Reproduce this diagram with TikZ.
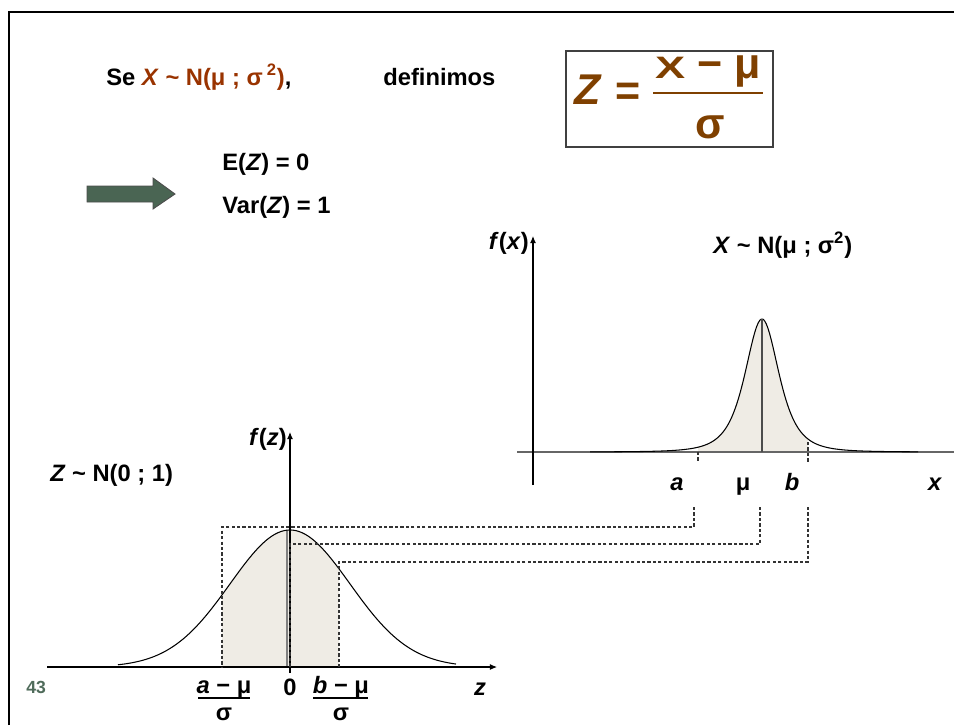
\documentclass[tikz,border=0pt]{standalone}
\usepackage{fontspec}
\setmainfont{Liberation Sans}
\usetikzlibrary{arrows.meta}
\definecolor{rustbrown}{HTML}{993300}
\definecolor{formbrown}{HTML}{7F4000}
\definecolor{arrowgreen}{HTML}{4A6553}
\definecolor{pagegreen}{HTML}{4F6B5A}
\definecolor{bellfill}{HTML}{EFECE5}
\tikzset{
  lbl/.style={font=\fontsize{13.5}{16}\selectfont\bfseries,inner sep=0pt,anchor=base west},
  lblc/.style={lbl,anchor=base},
  big/.style={font=\fontsize{24.5}{28}\selectfont\bfseries,text=formbrown,inner sep=0pt,anchor=base},
  axis/.style={-{Latex[length=4pt,width=3.4pt]},line width=0.6pt},
  guide/.style={dash pattern=on 1.8pt off 1.3pt,line width=0.6pt,black!80},
  curve/.style={line width=0.6pt,black}
}

\begin{document}
\begin{tikzpicture}[x=0.02cm,y=-0.02cm]
  \useasboundingbox (0,0) rectangle (954,725);
  % Frame
  \draw[line width=1.6pt] (9,725) -- (9,12) -- (954,12);
  % Definition line
  \node[lbl] (se) at (106,85) {Se \textcolor{rustbrown}{\textit{X} \textasciitilde{} N(μ ; σ\,\textsuperscript{2})},};
  \node[lbl] (defin) at (383,85) {definimos};
  \draw[line width=0.8pt,black!75] (566,51) rectangle (773,147);
  \node[big,font=\fontsize{24.5}{28}\selectfont\bfseries\itshape] (zlhs) at (588,104) {Z};
  \node[big,anchor=center] (eq) at (628,94) {=};
  \node[big] (num) at (708,78) {\scalebox{1.05}[0.72]{X} − μ};
  \node[big] (den) at (710,138) {σ};
  \draw[formbrown,line width=1.1pt] (653,93) -- (763,93);
  % Consequence
  \fill[arrowgreen,draw=black!70,line width=0.5pt]
    (87,186) -- (153,186) -- (153,178) -- (175,194) -- (153,209) -- (153,202) -- (87,202) -- cycle;
  \node[lbl] (ez) at (222,170) {E(\textit{Z}) = 0};
  \node[lbl] (varz) at (222,213) {Var(\textit{Z}) = 1};

  % X ~ N(mu ; sigma^2)
  \fill[bellfill] (698,452) -- plot[domain=698:808,samples=60]
    (\x,{452-133*(1+((\x-762)/31)^2)^(-2)}) -- (808,452) -- cycle;
  \draw[line width=0.6pt,black!60] (517,452) -- (954,452);
  \draw[axis] (533,485) -- (533,236);
  \draw[curve] plot[domain=590:918,samples=200] (\x,{452-133*(1+((\x-762)/31)^2)^(-2)});
  \draw[line width=0.6pt,black!70] (762,452) -- (762,319);
  \draw[guide] (698,452) -- (698,462);
  \draw[guide] (808,442) -- (808,463);
  \node[lbl,anchor=base east] (fx) at (529,249) {\textit{f}(\textit{x})};
  \node[lbl] (xlaw) at (713,253) {\textit{X} \textasciitilde{} N(μ ; σ\textsuperscript{2})};
  \node[lblc] (la) at (677,490) {\textit{a}};
  \node[lblc] (lmu) at (743,490) {μ};
  \node[lblc] (lb) at (792,490) {\textit{b}};
  \node[lblc] (lx) at (935,490) {\textit{x}};

  % Z ~ N(0 ; 1)
  \fill[bellfill] (222,667) -- plot[domain=222:339,samples=60]
    (\x,{667-137*exp(-(((\x-290)/60)^2)/2)}) -- (339,667) -- cycle;
  \draw[line width=0.6pt,black!50] (287,667) -- (287,530);
  \draw[axis] (47,667) -- (497,667);
  \draw[axis] (290,673) -- (290,432);
  \draw[curve] plot[domain=118:456,samples=200] (\x,{667-137*exp(-(((\x-290)/60)^2)/2)});
  \node[lbl,anchor=base east] (fz) at (287,445) {\textit{f}(\textit{z})};
  \node[lbl] (zlaw) at (50,481) {\textit{Z} \textasciitilde{} N(0 ; 1)};
  % Standardised bounds
  \node[lblc] (za) at (224,693) {\textit{a} − μ};
  \draw[line width=1.1pt] (198,698) -- (250,698);
  \node[lblc] (zas) at (224,720) {σ};
  \node[lblc] (z0) at (290,695) {0};
  \node[lblc] (zb) at (341,693) {\textit{b} − μ};
  \draw[line width=1.1pt] (313,698) -- (368,698);
  \node[lblc] (zbs) at (341,720) {σ};
  \node[lblc] (lz) at (480,695) {\textit{z}};
  \node[font=\fontsize{10}{12}\selectfont\bfseries,text=pagegreen,inner sep=0pt,anchor=base west] (page) at (26,693) {43};

  % Mapping a, mu, b onto the z axis
  \foreach \xt/\xb/\yy in {694/222/527, 760/290/544, 808/339/562} {
    \draw[guide] (\xt,507) -- (\xt,\yy) -- (\xb,\yy) -- (\xb,667);
  }
\end{tikzpicture}
\end{document}
